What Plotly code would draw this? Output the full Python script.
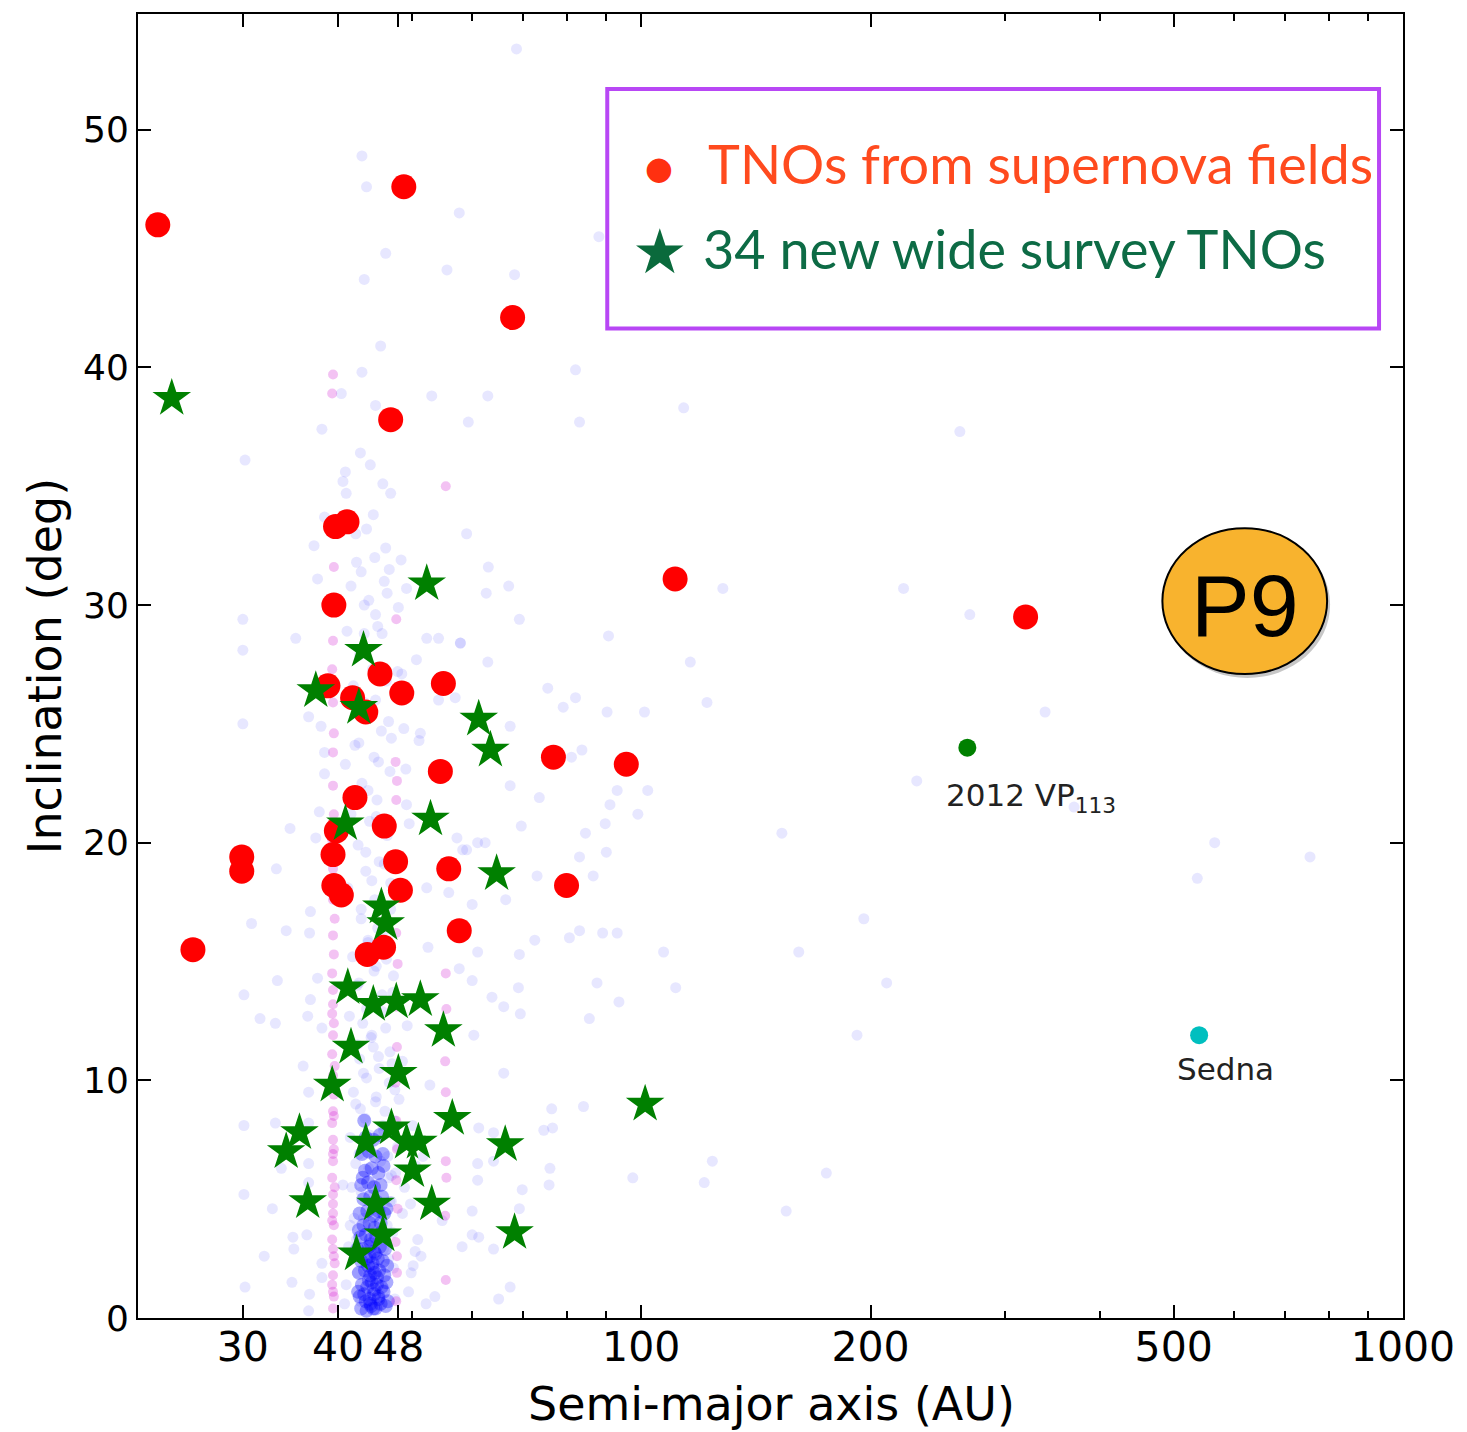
import plotly.graph_objects as go

# ---------------- data ----------------
# TNOs from supernova fields (a [AU], i [deg])
sn_a = [23.2, 48.8, 67.8, 46.9, 39.7, 41.1, 39.5, 110.8, 319.6, 38.8, 41.8, 43.5, 45.4,
        48.5, 55.0, 76.7, 95.6, 54.5, 42.1, 39.8, 46.0, 29.9, 29.9, 39.4, 47.6, 55.9,
        39.5, 40.4, 48.3, 79.8, 25.8, 57.7, 43.7, 45.9]
sn_i = [46.0, 47.6, 42.1, 37.8, 33.3, 33.5, 30.0, 31.1, 29.5, 26.6, 26.1, 25.5, 27.1,
        26.3, 26.7, 23.6, 23.3, 23.0, 21.9, 20.5, 20.7, 19.4, 18.8, 19.5, 19.2, 18.9,
        18.2, 17.8, 18.0, 18.2, 15.5, 16.3, 15.3, 15.6]

# New wide survey TNOs
ws_a = [24.2, 52.3, 43.2, 37.4, 42.6, 61.2, 63.4, 40.9, 52.9, 64.6, 45.6, 46.2, 41.2,
        44.5, 47.7, 51.3, 55.0, 41.6, 48.0, 39.3, 35.6, 34.2, 43.5, 47.0, 49.2, 51.0,
        50.1, 56.5, 66.3, 36.5, 44.8, 53.1, 45.8, 42.3, 68.2, 101.2]
ws_i = [38.7, 30.9, 28.1, 26.4, 25.7, 25.2, 23.9, 20.8, 21.0, 18.7, 17.3, 16.6, 13.9,
        13.2, 13.3, 13.4, 12.1, 11.4, 10.3, 9.8, 7.8, 7.0, 7.4, 8.0, 7.4, 7.4,
        6.2, 8.4, 7.3, 4.9, 4.8, 4.8, 3.5, 2.7, 3.6, 9.0]

# named objects
vp_a, vp_i = [268.0], [24.0]
sedna_a, sedna_i = [540.0], [11.9]

# Known TNO background (scattered)
bg_a = [68.6, 43.0, 43.6, 57.7, 88.0, 46.2, 43.3, 55.6, 68.2, 45.5, 43.0, 40.4, 44.8,
        53.1, 62.9, 82.0, 59.3, 83.0, 38.1, 30.2, 113.7, 59.0, 63.0, 67.0, 62.6, 128.0,
        221.0, 69.2, 90.6, 57.9, 62.9, 116.0, 75.4, 82.0, 79.0, 90.2, 101.0, 122.0, 67.3,
        83.6, 81.0, 230.0, 67.3, 93.0, 102.0, 69.6, 84.5, 89.7, 99.0, 91.0, 153.0, 61.0,
        58.3, 83.0, 90.0, 73.0, 86.5, 60.0, 66.4, 196.0, 61.0, 69.2, 72.5, 80.5, 83.0,
        89.0, 93.0, 107.0, 161.0, 57.7, 60.0, 69.0, 87.5, 111.0, 210.0, 63.7, 66.0, 69.4,
        93.5, 85.5, 192.0, 60.3, 66.0, 76.3, 84.0, 74.5, 76.5, 61.2, 64.0, 61.0, 64.0,
        75.9, 75.7, 97.5, 124.0, 121.0, 175.0, 155.0, 61.0, 69.8, 69.2, 60.0, 60.0, 61.2,
        58.2, 64.0, 67.3, 65.0, 262.0, 270.0, 339.0, 370.0, 566.0, 755.0, 537.0,
        30.0, 30.0, 30.0, 35.2, 34.6, 33.2, 36.6, 37.2, 37.6, 38.4,
        40.6, 41.0, 44.1, 46.9, 43.6, 42.2, 46.2, 44.7, 42.9, 46.0, 46.4, 41.6, 49.2,
        48.0, 43.3, 44.8, 41.1, 43.3, 45.7, 52.3, 54.2, 57.9, 50.7, 57.0, 54.2, 48.5,
        46.6, 44.8, 51.3, 48.8, 73.5, 57.3, 59.0, 62.4, 43.8, 45.2, 49.1, 42.6, 38.0,
        38.4, 38.4, 40.9, 37.8, 37.4, 47.0, 44.9, 49.2, 46.0, 44.3, 52.3, 55.9,
        30.8, 34.2, 36.8, 36.7, 30.1, 33.3, 37.6, 31.6, 33.1, 36.5, 36.8, 38.1, 36.0,
        36.6, 30.1, 33.1, 36.6, 33.7, 36.6, 36.6, 30.1, 32.8, 36.4, 34.9, 35.0, 32.0,
        38.1, 34.8, 30.2, 36.6, 36.7, 38.1,
        42.9, 45.1, 43.8, 46.3, 44.6, 42.4, 47.2, 45.7, 43.1, 44.2, 46.8, 42.7, 45.3,
        43.6, 47.5, 44.9, 42.2, 46.1, 43.4, 45.8, 44.0, 47.9, 42.6, 45.5, 43.9, 46.6,
        44.4, 42.9, 47.0, 45.0, 43.2, 46.4, 44.7, 42.3, 45.9, 43.7, 47.3, 44.1, 46.0,
        42.8, 45.4, 43.5, 46.9, 44.5, 48.6, 50.2, 51.7, 49.5, 52.8, 50.9, 48.9, 53.6,
        51.2, 49.9, 54.8, 50.5, 47.6, 52.2,
        41.5, 42.3, 43.9, 45.1, 42.7, 44.4, 46.3, 41.9, 43.3, 45.6, 42.1, 44.6, 46.8,
        43.0, 45.0, 41.6, 44.0, 46.4, 42.5, 45.3, 43.5, 41.2, 44.7, 46.9, 42.9, 45.9,
        43.8, 41.8, 44.9, 47.3, 42.6, 45.7, 43.6, 41.4, 46.2, 44.3, 42.4, 45.2, 47.1,
        43.2, 46.7, 41.9, 44.8, 42.8, 47.4, 45.9, 41.5, 43.9, 46.5, 42.2, 47.0, 41.7,
        46.8, 42.0, 47.2, 41.3, 46.6, 42.4, 41.0, 47.5, 40.8, 40.6, 48.6, 49.3, 48.1,
        50.6, 49.8, 51.4, 50.1, 52.5, 48.7, 49.6, 51.1, 47.9, 48.4, 40.9, 42.8, 45.8,
        44.5, 46.7]
bg_i = [53.4, 48.9, 47.6, 46.5, 45.5, 44.8, 43.7, 44.1, 43.9, 40.9, 39.8, 38.9, 38.4,
        38.8, 38.8, 39.9, 37.7, 37.7, 37.4, 36.1, 38.3, 33.0, 31.6, 30.8, 30.5, 30.7,
        30.7, 29.4, 28.7, 28.4, 27.6, 27.6, 26.5, 26.1, 25.7, 25.5, 25.5, 25.9, 24.9,
        23.9, 23.6, 22.6, 22.4, 22.2, 22.2, 20.7, 20.4, 20.8, 21.2, 21.6, 20.4, 20.0,
        19.7, 19.4, 19.6, 18.6, 18.6, 17.4, 17.6, 16.8, 15.4, 15.3, 15.9, 16.0, 16.3,
        16.2, 16.2, 15.4, 15.4, 14.7, 14.2, 13.9, 14.1, 13.9, 14.1, 13.5, 13.1, 12.8,
        13.3, 12.6, 11.9, 11.9, 10.3, 8.8, 8.9, 7.9, 8.0, 8.0, 7.8, 6.5, 6.6,
        6.3, 5.6, 5.9, 6.6, 5.7, 6.1, 4.5, 5.8, 5.4, 4.6, 4.5, 3.5, 3.4,
        3.0, 2.9, 1.3, 0.8, 37.3, 29.6, 25.5, 21.5, 20.0, 19.4, 18.5,
        29.4, 28.1, 25.0, 28.6, 20.6, 18.9, 25.3, 32.5, 31.1, 33.7,
        35.2, 34.7, 35.9, 34.7, 33.2, 33.0, 32.4, 32.0, 31.4, 31.0, 30.5, 30.8, 30.7,
        29.9, 30.0, 29.6, 28.9, 28.8, 28.8, 28.6, 28.6, 28.4, 27.7, 26.1, 26.0, 27.1,
        25.1, 26.0, 24.6, 24.8, 21.9, 20.2, 19.7, 20.0, 22.2, 23.4, 23.1, 24.2, 24.9,
        23.8, 22.9, 23.3, 21.3, 20.2, 24.4, 21.1, 21.6, 19.1, 18.4, 18.1, 17.9,
        16.6, 16.3, 17.1, 16.2, 13.6, 14.2, 14.3, 12.6, 12.4, 12.7, 13.4, 12.2, 10.6,
        9.5, 8.1, 8.2, 8.2, 6.3, 6.5, 5.7, 5.2, 4.6, 3.5, 3.4, 2.9, 2.6,
        2.3, 1.5, 1.3, 0.3, 1.0, 1.7,
        17.2, 16.4, 15.8, 15.1, 14.6, 14.0, 13.7, 12.9, 12.4, 11.8, 11.2, 10.9, 10.5,
        10.1, 9.6, 9.3, 9.0, 8.7, 8.4, 8.1, 7.7, 7.2, 6.9, 6.6, 6.3, 5.9,
        5.6, 5.3, 4.9, 4.6, 4.2, 3.9, 3.6, 3.3, 2.9, 2.4, 2.1, 1.8, 1.2,
        0.7, 0.5, 19.6, 18.3, 11.4, 4.4, 2.2, 6.8, 1.1, 9.8, 3.3, 5.5, 0.9, 7.4,
        1.9, 4.1, 2.8, 6.1, 0.6, 3.9,
        31.8, 30.2, 29.1, 27.9, 27.3, 26.8, 26.6, 25.9, 24.7, 24.1, 23.6, 23.0, 22.5,
        21.8, 21.2, 20.9, 20.3, 19.9, 19.2, 18.8, 18.1, 17.6, 17.2, 16.8, 16.3, 15.9,
        15.2, 14.8, 14.4, 14.1, 13.6, 13.0, 12.7, 12.2, 11.9, 11.5, 11.0, 10.7, 10.3,
        9.9, 9.5, 9.1, 8.8, 8.3, 7.9, 7.6, 7.2, 6.8, 6.5, 6.0, 5.5, 4.9,
        4.2, 3.6, 3.0, 2.5, 1.9, 1.4, 0.8, 0.6, 5.6, 10.8, 12.3, 9.2, 6.4,
        4.8, 2.6, 8.1, 15.6, 17.9, 20.8, 24.3, 27.2, 31.9, 35.6, 36.4, 35.1, 33.8,
        31.5, 29.3]

# Cold classical core (dense)
core_a = [42.9, 43.6, 44.2, 44.8, 45.5, 46.2,
          42.7, 43.3, 44.0, 44.6, 45.2, 45.9,
          43.0, 43.7, 44.3, 45.0, 45.6, 46.3,
          42.6, 43.4, 44.1, 44.7, 45.3, 46.0,
          42.9, 43.6, 44.4, 45.1, 45.8,
          43.1, 43.9, 44.6, 45.4, 46.1,
          42.8, 43.5, 44.2, 44.9, 45.7,
          43.2, 44.0, 44.7, 45.5,
          42.7, 43.7, 44.5, 45.2, 46.0,
          43.2, 44.1, 44.9, 45.7,
          42.9, 43.8, 44.6, 45.5,
          43.4, 44.3, 45.2,
          43.0, 43.9, 44.8, 45.8,
          43.5, 44.5, 45.4,
          44.1, 44.6, 43.9, 44.4, 45.0, 43.5, 44.8, 44.2, 45.2, 43.8, 44.5, 44.0,
          42.5, 46.4, 42.6, 46.5, 42.4, 46.3, 43.1, 45.9, 43.3, 45.6]
core_i = [0.4, 0.3, 0.5, 0.4, 0.6, 0.5,
          0.9, 1.0, 0.8, 1.0, 0.9, 1.1,
          1.4, 1.3, 1.5, 1.4, 1.3, 1.5,
          1.9, 2.0, 1.8, 1.9, 2.0, 1.8,
          2.4, 2.5, 2.3, 2.5, 2.4,
          2.9, 3.0, 2.8, 3.0, 2.9,
          3.4, 3.5, 3.3, 3.4, 3.5,
          3.9, 4.0, 3.8, 4.0,
          4.4, 4.5, 4.3, 4.5, 4.4,
          5.0, 5.1, 4.9, 5.1,
          5.6, 5.7, 5.5, 5.6,
          6.2, 6.3, 6.1,
          6.9, 7.0, 6.8, 6.9,
          7.6, 7.5, 7.7,
          0.6, 1.2, 1.6, 2.1, 1.7, 0.7, 2.7, 3.1, 0.8, 2.2, 0.4, 2.6,
          1.1, 2.2, 3.7, 0.7, 2.9, 4.6, 5.9, 6.4, 8.3, 3.6]

# Resonant objects (pink)
res_a = [39.4, 39.5, 39.3, 39.4, 39.6, 39.4, 39.3, 39.5, 39.4, 39.4, 39.6, 39.3, 39.4,
         39.5, 39.4, 39.3, 39.4, 39.5, 39.4, 39.6, 39.3, 39.4, 39.5, 39.4, 39.4, 39.3,
         39.5, 39.4, 39.6, 39.4, 39.4, 39.3, 39.5, 39.4, 39.4, 39.5, 39.4, 39.3, 39.4,
         39.4, 39.5, 39.4, 39.3, 39.4, 39.4, 39.5, 39.3, 39.4, 39.4, 39.5, 39.4, 39.3,
         47.7, 47.8, 47.6, 47.9, 47.7, 47.8, 47.7, 47.6, 47.8, 47.7, 47.9, 47.7, 47.8,
         47.6, 47.7, 47.8, 47.7,
         55.4, 55.3, 55.5, 55.4, 55.4, 55.3, 55.5, 55.4, 55.4]
res_i = [0.4, 0.9, 1.4, 1.8, 2.3, 2.9, 3.3, 3.9, 4.4, 4.8, 5.5, 5.9, 6.6,
         7.1, 7.5, 8.2, 8.7, 9.4, 9.9, 10.6, 11.1, 11.9, 12.4, 13.2, 13.8, 14.5,
         15.3, 16.1, 16.8, 17.6, 18.9, 20.1, 21.2, 22.4, 23.8, 24.6, 25.9, 27.3, 28.5,
         30.2, 31.6, 33.1, 38.9, 39.7, 1.1, 2.6, 4.1, 5.2, 6.9, 8.5, 10.2, 12.8,
         0.7, 1.9, 3.2, 4.6, 5.8, 7.1, 8.3, 9.9, 11.4, 13.1, 14.9, 21.8, 22.6,
         23.4, 29.4, 2.6, 16.2,
         1.6, 4.3, 5.9, 6.6, 9.5, 10.8, 13.0, 14.5, 35.0]

# axis ticks
x_major = [30, 40, 48, 100, 200, 500, 1000]
x_major_text = ["30", "40", "48", "100", "200", "500", "1000"]
x_minor = [50, 60, 70, 80, 90, 300, 400, 600, 700, 800, 900]
y_ticks = [0, 10, 20, 30, 40, 50]

# ---------------- figure ----------------
fig = go.Figure()

fig.add_trace(go.Scatter(x=bg_a, y=bg_i, mode="markers",
                         marker=dict(size=11, color="rgba(40,40,255,0.11)", line=dict(width=0)),
                         hoverinfo="skip", showlegend=False))
fig.add_trace(go.Scatter(x=core_a, y=core_i, mode="markers",
                         marker=dict(size=14, color="rgba(0,0,255,0.33)", line=dict(width=0)),
                         hoverinfo="skip", showlegend=False))
fig.add_trace(go.Scatter(x=res_a, y=res_i, mode="markers",
                         marker=dict(size=10, color="rgba(205,0,205,0.24)", line=dict(width=0)),
                         hoverinfo="skip", showlegend=False))
fig.add_trace(go.Scatter(x=sn_a, y=sn_i, mode="markers",
                         marker=dict(size=25, color="#ff0000", line=dict(width=0)),
                         showlegend=False))
fig.add_trace(go.Scatter(x=ws_a, y=ws_i, mode="markers",
                         marker=dict(size=29, symbol="star", color="#008000", line=dict(width=0)),
                         showlegend=False))
fig.add_trace(go.Scatter(x=vp_a, y=vp_i, mode="markers",
                         marker=dict(size=18, color="#008000", line=dict(width=0)),
                         showlegend=False))
fig.add_trace(go.Scatter(x=sedna_a, y=sedna_i, mode="markers",
                         marker=dict(size=18, color="#00bfbf", line=dict(width=0)),
                         showlegend=False))

W, H = 1467, 1432
L, R, T, B = 138, 62, 12, 114
pw, ph = W - L - R, H - T - B


def px(x):
    return (x - L) / pw


def py(y):
    return (H - B - y) / ph


shapes = [
    # legend box
    dict(type="rect", xref="paper", yref="paper", x0=px(608), x1=px(1381), y0=py(327), y1=py(87),
         line=dict(color="#b847f5", width=4), fillcolor="rgba(255,255,255,0)"),
    # P9 shadow + badge
    dict(type="circle", xref="paper", yref="paper", x0=px(1166), x1=px(1332), y0=py(677), y1=py(530),
         line=dict(width=0), fillcolor="rgba(0,0,0,0.22)"),
    dict(type="circle", xref="paper", yref="paper", x0=px(1164), x1=px(1329), y0=py(673), y1=py(527),
         line=dict(color="black", width=2), fillcolor="#f8b32e"),
]

annotations = [
    dict(xref="paper", yref="paper", x=px(660), y=py(166), text="●", showarrow=False,
         font=dict(size=32, color="#ff3010", family="DejaVu Sans"), xanchor="center", yanchor="middle"),
    dict(xref="paper", yref="paper", x=px(661), y=py(250), text="★", showarrow=False,
         font=dict(size=62, color="#0a6a3c", family="DejaVu Sans"), xanchor="center", yanchor="middle"),
    dict(xref="paper", yref="paper", x=px(707), y=py(162), text="TNOs from supernova fields",
         showarrow=False, font=dict(size=54, color="#ff4a1e", family="Lato"), xanchor="left", yanchor="middle"),
    dict(xref="paper", yref="paper", x=px(702), y=py(247), text="34 new wide survey TNOs",
         showarrow=False, font=dict(size=54, color="#0d6b45", family="Lato"), xanchor="left", yanchor="middle"),
    dict(xref="paper", yref="paper", x=px(1247), y=py(604), text="P9", showarrow=False,
         font=dict(size=88, color="black", family="Liberation Sans"), xanchor="center", yanchor="middle"),
    dict(x=2.4281, y=24.0, xref="x", yref="y", text="2012 VP<sub>113</sub>", showarrow=False,
         font=dict(size=31, color="#222222", family="DejaVu Sans"), xanchor="left", yanchor="middle",
         xshift=-23, yshift=-50),
    dict(x=2.7324, y=11.9, xref="x", yref="y", text="Sedna", showarrow=False,
         font=dict(size=31, color="#222222", family="DejaVu Sans"), xanchor="left", yanchor="middle",
         xshift=-24, yshift=-34),
    dict(xref="paper", yref="paper", x=px(773), y=py(1404), text="Semi-major axis (AU)", showarrow=False,
         font=dict(size=46, color="black", family="DejaVu Sans"), xanchor="center", yanchor="middle"),
    dict(xref="paper", yref="paper", x=px(45), y=py(665), text="Inclination (deg)", showarrow=False,
         textangle=-90, font=dict(size=46, color="black", family="DejaVu Sans"),
         xanchor="center", yanchor="middle"),
]

fig.update_layout(
    width=W, height=H,
    margin=dict(l=L, r=R, t=T, b=B),
    paper_bgcolor="white", plot_bgcolor="white",
    shapes=shapes, annotations=annotations,
    showlegend=False,
)
fig.update_xaxes(
    type="log", range=[1.3395, 3.0],
    tickmode="array", tickvals=x_major, ticktext=x_major_text,
    ticks="inside", ticklen=13, tickwidth=2, tickcolor="black",
    minor=dict(tickmode="array", tickvals=x_minor, ticks="inside", ticklen=7, tickwidth=2,
               tickcolor="black", showgrid=False),
    showline=True, linecolor="black", linewidth=2, mirror="allticks",
    showgrid=False, zeroline=False, ticklabelstandoff=-8,
    tickfont=dict(size=41, color="black", family="DejaVu Sans"),
)
fig.update_yaxes(
    range=[0, 54.87],
    tickmode="array", tickvals=y_ticks,
    ticks="inside", ticklen=13, tickwidth=2, tickcolor="black",
    showline=True, linecolor="black", linewidth=2, mirror="allticks",
    showgrid=False, zeroline=False,
    tickfont=dict(size=36, color="black", family="DejaVu Sans"),
)

fig.write_html("out.html")
